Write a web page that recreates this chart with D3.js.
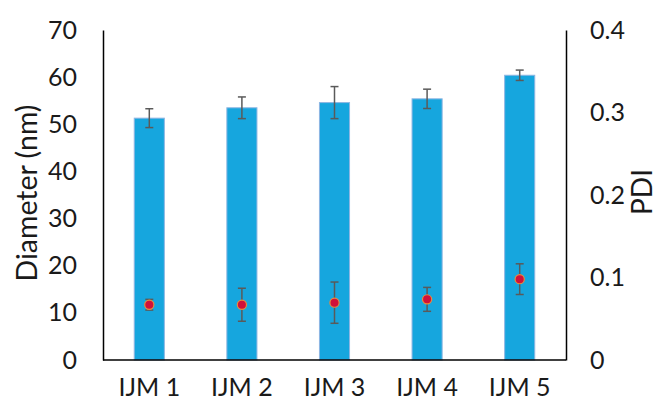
<!DOCTYPE html>
<html><head><meta charset="utf-8">
<script src="https://cdnjs.cloudflare.com/ajax/libs/d3/7.8.5/d3.min.js"></script>
<style>body{margin:0;background:#fff}svg{display:block}text{font-family:Lato,"Open Sans",sans-serif;fill:#1a1a1a}</style>
</head><body><svg id="c" width="659" height="403"></svg>
<script>
const categories = ["IJM 1","IJM 2","IJM 3","IJM 4","IJM 5"];
const diameter = [51.3, 53.5, 54.6, 55.4, 60.4];
const diameterErr = [2.0, 2.3, 3.4, 2.05, 1.1];
const pdi = [0.067, 0.067, 0.0695, 0.0735, 0.098];
const pdiErr = [0.0065, 0.02, 0.025, 0.0145, 0.0186];
const leftTicks = [0,10,20,30,40,50,60,70];
const rightTicks = [0,0.1,0.2,0.3,0.4];

const svg = d3.select("#c");
const L = 103, R = 566, T = 30, B = 360;
const x = d3.scaleBand().domain(categories).range([L, R]).paddingInner(0.675).paddingOuter(0.3375);
const y = d3.scaleLinear().domain([0,70]).range([B, T]);
const y2 = d3.scaleLinear().domain([0,0.4]).range([B, T]);

// bars
svg.append("g").selectAll("rect").data(categories).join("rect")
  .attr("x", d => x(d)).attr("width", x.bandwidth())
  .attr("y", (d,i) => y(diameter[i])).attr("height", (d,i) => B - y(diameter[i]))
  .attr("fill", "#16a6de").attr("stroke", "#8db5e2").attr("stroke-width", 1);

function errBars(vals, errs, scale){
  const g = svg.append("g").attr("stroke", "#5a5a5a").attr("stroke-width", 1.5);
  categories.forEach((c,i) => {
    const cx = x(c) + x.bandwidth()/2;
    const y1 = scale(vals[i] + errs[i]), y0 = scale(vals[i] - errs[i]);
    g.append("line").attr("x1", cx).attr("x2", cx).attr("y1", y1).attr("y2", y0);
    g.append("line").attr("x1", cx-4).attr("x2", cx+4).attr("y1", y1).attr("y2", y1);
    g.append("line").attr("x1", cx-4).attr("x2", cx+4).attr("y1", y0).attr("y2", y0);
  });
}
errBars(diameter, diameterErr, y);
errBars(pdi, pdiErr, y2);

svg.append("g").selectAll("circle").data(categories).join("circle")
  .attr("cx", d => x(d) + x.bandwidth()/2).attr("cy", (d,i) => y2(pdi[i]))
  .attr("r", 4.6).attr("fill", "#d0103a").attr("stroke", "#e98a3c").attr("stroke-width", 1.2);

// axes
const fs = "25px";
const gl = svg.append("g").attr("transform", `translate(${L},0)`)
  .call(d3.axisLeft(y).tickValues(leftTicks).tickSize(0).tickPadding(26).tickFormat(d3.format("d")));
gl.select(".domain").attr("stroke", "#000").attr("stroke-width", 1.5);
gl.selectAll("text").style("font-size", fs).attr("fill", "#1a1a1a").attr("font-family", null);

const gr = svg.append("g").attr("transform", `translate(${R},0)`)
  .call(d3.axisRight(y2).tickValues(rightTicks).tickSize(0).tickPadding(24).tickFormat(d => d === 0 ? "0" : d3.format(".1f")(d)));
gr.select(".domain").attr("stroke", "#000").attr("stroke-width", 1.5);
gr.selectAll("text").style("font-size", fs).attr("fill", "#1a1a1a").attr("font-family", null);

const gb = svg.append("g").attr("transform", `translate(0,${B})`)
  .call(d3.axisBottom(x).tickSize(0).tickPadding(18));
gb.select(".domain").attr("stroke", "#000").attr("stroke-width", 1.5).attr("d", `M${L},0H${R}`);
gb.selectAll("text").style("font-size", fs).attr("fill", "#1a1a1a").attr("font-family", null);

svg.append("text").attr("transform", "translate(26,193) rotate(-90)").attr("text-anchor", "middle")
  .attr("dominant-baseline", "central").style("font-size", "28.5px").text("Diameter (nm)");
svg.append("text").attr("transform", "translate(641,192) rotate(-90)").attr("text-anchor", "middle")
  .attr("dominant-baseline", "central").style("font-size", "28px").text("PDI");
</script></body></html>
